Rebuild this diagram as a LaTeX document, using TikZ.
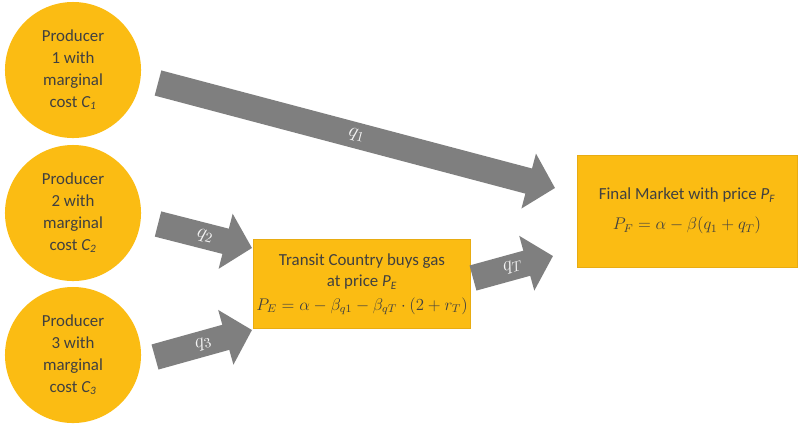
\documentclass[tikz,border=0pt]{standalone}
\usepackage{fontspec}
\setmainfont{Carlito}
\usetikzlibrary{arrows.meta}
\definecolor{gold}{RGB}{251,188,19}
\definecolor{golddark}{RGB}{232,172,18}
\definecolor{flowgray}{RGB}{127,127,127}
\definecolor{textgray}{RGB}{64,64,64}

\begin{document}
\begin{tikzpicture}[x=0.025cm,y=-0.025cm,
  producer/.style={circle,fill=gold,minimum size=3.4cm,inner sep=0pt,align=center,
    text=textgray,font=\fontsize{12}{15.5}\selectfont},
  market/.style={rectangle,fill=gold,draw=golddark,inner sep=2pt,align=center,
    text=textgray,font=\fontsize{12}{15.5}\selectfont},
  flow/.style={draw=flowgray,line width=0.65cm,-{Triangle[length=0.68cm,width=1.38cm]}},
  flowlabel/.style={sloped,inner sep=0pt,text=white!92!gray,font=\fontsize{14.5}{16}\selectfont}]
  \useasboundingbox (0,0) rectangle (800,424);

  % producers
  \node[producer] (p1) at (73,70) {Producer\\1 with\\marginal\\cost \textit{C\textsubscript{1}}};
  \node[producer] (p2) at (73,213) {Producer\\2 with\\marginal\\cost \textit{C\textsubscript{2}}};
  \node[producer] (p3) at (73,355) {Producer\\3 with\\marginal\\cost \textit{C\textsubscript{3}}};

  % markets
  \node[market,minimum width=5.5cm,minimum height=2.8cm] (final) at (687,211)
    {Final Market with price \textit{P\textsubscript{F}}\\[6pt] $P_F=\alpha-\beta(q_1+q_T)$};
  \node[market,minimum width=5.35cm,minimum height=2.225cm] (transit) at (362,284)
    {Transit Country buys gas\\at price \textit{P\textsubscript{E}}\\[1pt] $P_E=\alpha-\beta_{q1}-\beta_{qT}\cdot(2+r_T)$};

  % flow ends
  \coordinate (q1from) at (158,83);
  \coordinate (q1to) at (555,188);
  \coordinate (q2from) at (158,224);
  \coordinate (q2to) at (252,248);
  \coordinate (q3from) at (155,357);
  \coordinate (q3to) at (252,330);
  \coordinate (qTfrom) at (473,278);
  \coordinate (qTto) at (553,256);

  \draw[flow] (q1from) -- (q1to) node[midway,flowlabel] {$q_1$};
  \draw[flow] (q2from) -- (q2to) node[midway,flowlabel] {$q_2$};
  \draw[flow] (q3from) -- (q3to) node[midway,flowlabel] {$q_3$};
  \draw[flow] (qTfrom) -- (qTto) node[midway,flowlabel] {$q_T$};
\end{tikzpicture}
\end{document}
